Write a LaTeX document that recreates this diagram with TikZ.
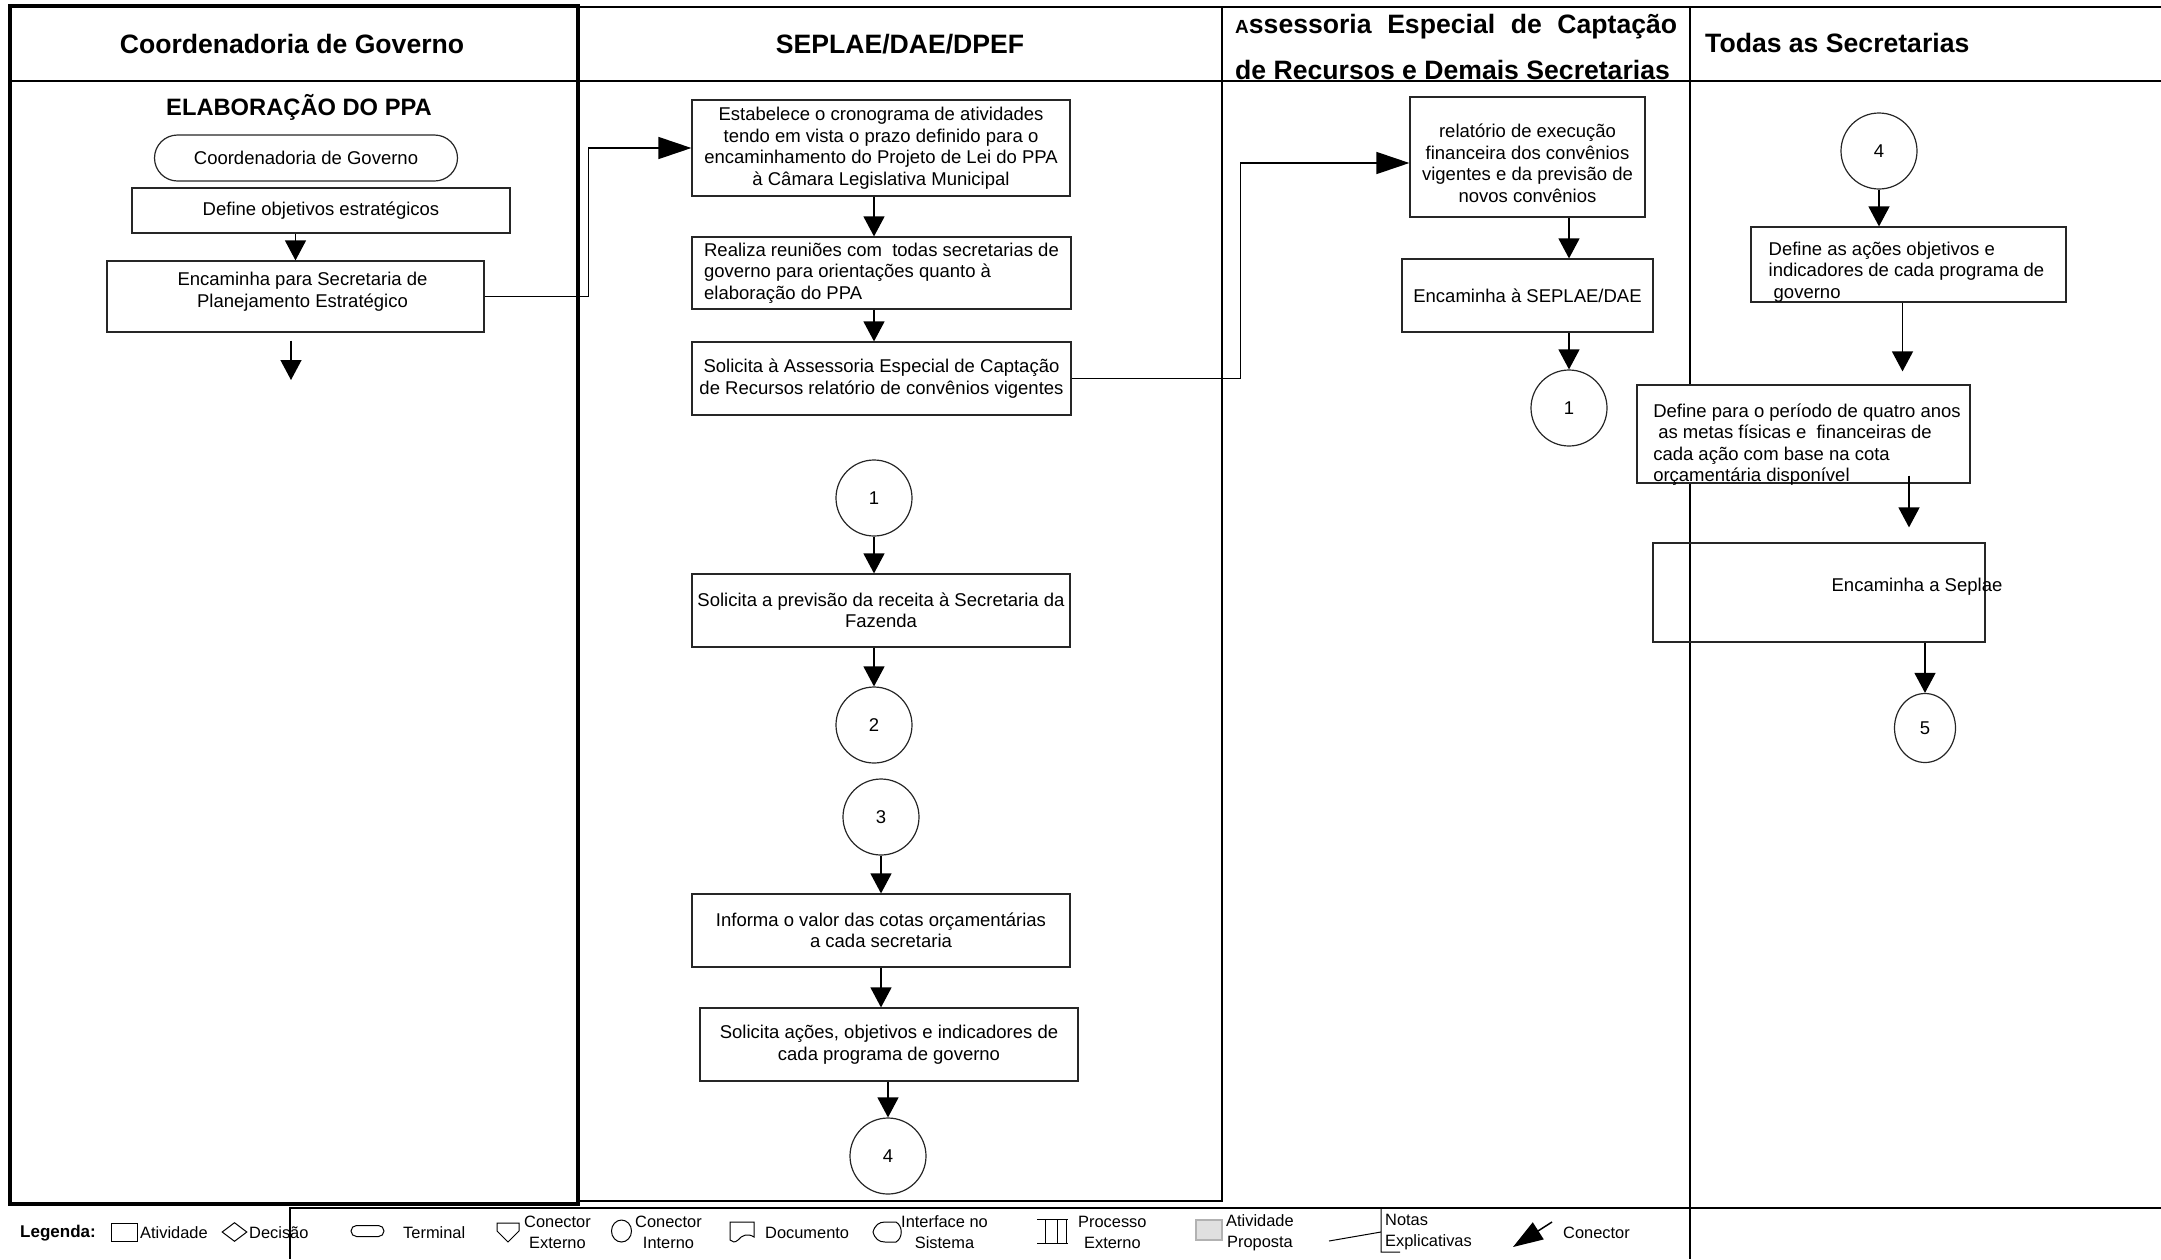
\documentclass[tikz,border=0pt]{standalone}
\usepackage{fontspec}
\setmainfont{Liberation Sans}
\usetikzlibrary{arrows.meta,shapes.geometric}
\newcommand{\corpo}{\fontsize{18.5}{21.5}\selectfont}
\newcommand{\fontetit}{\fontsize{26.6}{31}\selectfont\bfseries}
\newcommand{\fonteleg}{\fontsize{16.4}{21}\selectfont}

\begin{document}
\begin{tikzpicture}[x=1pt, y=-1pt]
      \tikzset{caixa/.style={draw=black!85, line width=1.2pt, fill=white, inner sep=2pt, align=center, font=\corpo},
               conector/.style={draw=black!85, line width=1.2pt, circle, inner sep=0pt, minimum size=76pt, font=\corpo},
               texto/.style={font=\corpo, align=left, inner sep=0pt},
               titulo/.style={font=\fontetit},
               legtexto/.style={font=\fonteleg, inner sep=0pt, anchor=west},
               seta/.style={line width=1.3pt, -{Triangle[length=20pt, width=21pt]}},
               setalonga/.style={line width=1.3pt, -{Triangle[length=33pt, width=22pt]}}}
      \useasboundingbox (0,0) rectangle (2161,1259);
%% Raias
      	\draw[line width=3.5pt] (10,6) rectangle (578,1204);
      	\draw[line width=1.6pt] (578,7) -- (2161,7);
      	\draw[line width=1.6pt] (10,81) -- (2161,81);
      	\draw[line width=1.6pt] (578,1201) -- (1222,1201) -- (1222,7);
      	\draw[line width=1.6pt] (1690,7) -- (1690,1259);
      	\draw[line width=1.4pt] (290,1259) -- (290,1208) -- (2161,1208);
%% Titulos
      	\node[titulo] (tcoord) at (292,44) {Coordenadoria de Governo};
      	\node[titulo] (tseplae) at (900,44) {SEPLAE/DAE/DPEF};
      	\node[font={\fontsize{26.6}{46}\selectfont\bfseries}, align=left, anchor=west, inner sep=0pt] (tasses) at (1235,47)
      	    {\makebox[442pt][s]{{\fontsize{19}{20}\selectfont A}ssessoria Especial de Captação}\\de Recursos e Demais Secretarias};
      	\node[titulo, anchor=west, inner sep=0pt] (ttodas) at (1705,43) {Todas as Secretarias};
%% Coordenadoria de Governo
      	\node[font={\fontsize{23.7}{28}\selectfont\bfseries}] (elab) at (299,107) {ELABORAÇÃO DO PPA};
      	\node[caixa, rounded corners=23pt, minimum width=303pt, minimum height=46pt] (term) at (306,158) {Coordenadoria de Governo};
      	\node[caixa, minimum width=378pt, minimum height=45pt] (def) at (321,210.5) {Define objetivos estratégicos};
      	\node[caixa, minimum width=377pt, minimum height=71pt,
      	    label={[texto, align=center, xshift=7pt, yshift=5pt]center:{Encaminha para Secretaria de\\Planejamento Estratégico}}] (encam) at (295.5,296.5) {};
      	\coordinate (saida) at (291,380);
%% SEPLAE/DAE/DPEF
      	\node[caixa, minimum width=378pt, minimum height=96pt] (crono) at (881,148) {Estabelece o cronograma de atividades\\tendo em vista o prazo definido para o\\encaminhamento do Projeto de Lei do PPA\\à Câmara Legislativa Municipal};
      	\node[caixa, align=left, minimum width=379pt, minimum height=72pt] (reun) at (881.5,273) {Realiza reuniões com\ \ todas secretarias de\\governo para orientações quanto à\\elaboração do PPA};
      	\node[caixa, minimum width=379pt, minimum height=73pt] (solic) at (881.5,378.5) {Solicita à Assessoria Especial de Captação\\de Recursos relatório de convênios vigentes};
      	\node[conector] (um) at (874,498) {1};
      	\node[caixa, minimum width=378pt, minimum height=73pt] (prev) at (881,610.5) {Solicita a previsão da receita à Secretaria da\\Fazenda};
      	\node[conector] (dois) at (874,725) {2};
      	\node[conector] (tres) at (881,817) {3};
      	\node[caixa, minimum width=378pt, minimum height=73pt] (cotas) at (881,930.5) {Informa o valor das cotas orçamentárias\\a cada secretaria};
      	\node[caixa, minimum width=378pt, minimum height=73pt] (acoes) at (889,1044.5) {Solicita ações, objetivos e indicadores de\\cada programa de governo};
      	\node[conector] (quatro) at (888,1156) {4};
%% Assessoria Especial
      	\node[caixa, minimum width=235pt, minimum height=120pt,
      	    label={[texto, align=center, yshift=-6.5pt]center:{relatório de execução\\financeira dos convênios\\vigentes e da previsão de\\novos convênios}}] (relat) at (1527.5,157) {};
      	\node[caixa, minimum width=251pt, minimum height=73pt] (envia) at (1527.5,295.5) {Encaminha à SEPLAE/DAE};
      	\node[conector] (umb) at (1569,408) {1};
%% Todas as Secretarias
      	\node[conector] (quatrob) at (1879,151) {4};
      	\node[caixa, minimum width=315pt, minimum height=75pt,
      	    label={[texto, xshift=-2pt, yshift=-7.5pt]center:{Define as ações objetivos e\\indicadores de cada programa de\\\hspace*{5pt}governo}}] (acoesb) at (1908.5,264.5) {};
      	\node[caixa, minimum width=333pt, minimum height=98pt,
      	    label={[texto, xshift=3.5pt, yshift=-10.5pt]center:{Define para o período de quatro anos\\\hspace*{5pt}as metas físicas e\ \ financeiras de\\cada ação com base na cota\\orçamentária disponível}}] (metasfis) at (1803.5,434) {};
      	\node[caixa, fill=none, minimum width=332pt, minimum height=99pt,
      	    label={[texto, xshift=98pt, yshift=5.5pt]center:Encaminha a Seplae}] (seplae) at (1819,592.5) {};
      	\node[conector, ellipse, minimum width=61pt, minimum height=69pt] (cinco) at (1925,728) {5};
%Ligacoes
		\path[seta] (def.south -| encam.north) edge (encam.north);
		\path[seta] ([yshift=-8pt]encam.south -| saida) edge (saida);
		\draw[setalonga] (encam.east) -- ++(104,0) |- (crono.west);
		\path[seta] (crono.south -| um) edge (reun.north -| um);
		\path[seta] (reun.south -| um) edge (solic.north -| um);
		\draw[setalonga] (solic.east) -- ++(169,0) |- ([yshift=-6pt]relat.west);
		\path[seta] (um.south) edge (um.south |- prev.north);
		\path[seta] (prev.south -| dois) edge (dois.north);
		\path[seta] (tres.south) edge (tres.south |- cotas.north);
		\path[seta] (cotas.south) edge (cotas.south |- acoes.north);
		\path[seta] (acoes.south -| quatro) edge (quatro.north);
		\path[seta] (relat.south -| umb) edge (envia.north -| umb);
		\path[seta] (envia.south -| umb) edge (umb.north);
		\path[seta] (quatrob.south) edge (quatrob.south |- acoesb.north);
		\path[seta, shorten >=13pt] ([xshift=-6pt]acoesb.south) edge ([xshift=-6pt]acoesb.south |- metasfis.north);
		\path[seta, shorten <=-8pt, shorten >=15pt] ([xshift=-16pt]metasfis.south -| cinco) edge ([xshift=-16pt]seplae.north -| cinco);
		\path[seta] (seplae.south -| cinco) edge (cinco.north);
%% Legenda
      	\node[font={\fontsize{17}{20}\selectfont\bfseries}, anchor=west, inner sep=0pt] (legenda) at (20,1233) {Legenda:};
      	\node[draw, line width=1pt, minimum width=26pt, minimum height=18pt, inner sep=0pt] (lativ) at (124,1232) {};
      	\node[legtexto] (tativ) at (140,1233) {Atividade};
      	\node[draw, diamond, line width=1pt, minimum width=25pt, minimum height=19pt, inner sep=0pt] (ldecis) at (234.5,1232) {};
      	\node[legtexto] (tdecis) at (249,1233) {Decisão};
      	\node[draw, line width=1pt, rounded corners=5.5pt, minimum width=33pt, minimum height=11pt, inner sep=0pt] (lterm) at (367.5,1231) {};
      	\node[legtexto] (tterm) at (403,1233) {Terminal};
      	\draw[line width=1pt] (497,1223) -- (519,1223) -- (519,1231) -- (508,1242) -- (497,1231) -- cycle;
      	\node[legtexto, align=center] (text) at (524,1232.5) {Conector\\Externo};
      	\node[draw, ellipse, line width=1pt, minimum width=20pt, minimum height=22pt, inner sep=0pt] (lint) at (621.5,1231) {};
      	\node[legtexto, align=center] (tint) at (635,1232.5) {Conector\\Interno};
      	\draw[line width=1pt] (730,1222) -- (754,1222) -- (754,1237) .. controls (748,1233) and (742,1235) .. (738,1240) .. controls (735,1243) and (732,1242) .. (730,1240) -- cycle;
      	\node[legtexto] (tdoc) at (765,1233) {Documento};
      	\draw[line width=1pt] (873,1232) .. controls (875,1225) and (879,1222) .. (885,1222) -- (896,1222) .. controls (903,1226) and (903,1238) .. (896,1242) -- (885,1242) .. controls (879,1242) and (875,1239) .. (873,1232);
      	\node[legtexto, align=center] (tinterf) at (901,1232.5) {Interface no\\Sistema};
      	\draw[line width=1pt] (1037,1219) -- (1068,1219) (1037,1243) -- (1068,1243) (1045,1219) -- (1045,1243) (1057,1219) -- (1057,1243) (1066,1219) -- (1066,1243);
      	\node[legtexto, align=center] (tproc) at (1078,1232.5) {Processo\\Externo};
      	\node[draw=black!30, fill=black!12, line width=1.5pt, minimum width=26pt, minimum height=20pt, inner sep=0pt] (lprop) at (1209,1230) {};
      	\node[legtexto, align=center] (tprop) at (1226,1232.5) {Atividade\\Proposta};
      	\draw[line width=1pt] (1329,1241) -- (1381,1232) (1381,1209) -- (1381,1252) -- (1400,1252);
      	\node[legtexto, align=left] (tnotas) at (1385,1232.5) {Notas\\Explicativas};
      	\draw[line width=1.5pt, -{Triangle[length=30pt, width=20pt]}] (1552,1222) -- (1513,1247);
      	\node[legtexto] (tcon) at (1563,1233) {Conector};
	\end{tikzpicture}
\end{document}
